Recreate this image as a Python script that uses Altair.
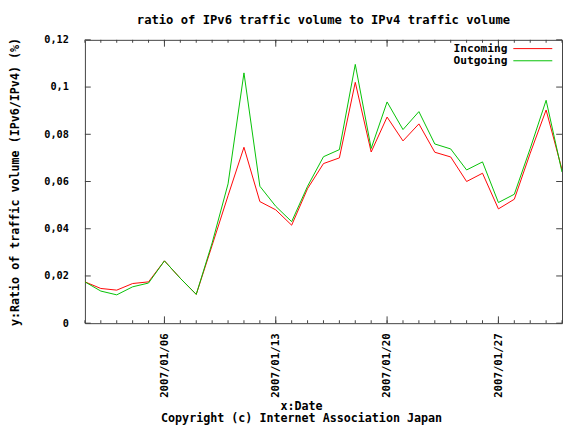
import altair as alt
import pandas as pd

dates = [f"2007-01-{d:02d}" for d in range(1, 32)]
incoming = [0.0175, 0.0147, 0.0140, 0.0168, 0.0175, 0.0264, 0.0190, 0.0122, 0.0330, 0.0540,
            0.0745, 0.0515, 0.0480, 0.0415, 0.0570, 0.0676, 0.0700, 0.1020, 0.0725, 0.0873,
            0.0772, 0.0844, 0.0724, 0.0704, 0.0600, 0.0635, 0.0484, 0.0525, 0.0720, 0.0903,
            0.0650]
outgoing = [0.0175, 0.0136, 0.0120, 0.0154, 0.0170, 0.0264, 0.0190, 0.0122, 0.0340, 0.0590,
            0.1060, 0.0580, 0.0495, 0.0430, 0.0580, 0.0705, 0.0735, 0.1096, 0.0740, 0.0937,
            0.0820, 0.0896, 0.0759, 0.0738, 0.0649, 0.0683, 0.0511, 0.0546, 0.0740, 0.0944,
            0.0640]
series_names = ["Incoming", "Outgoing"]
series_colors = ["#ff0000", "#00c000"]
major_days = [6, 13, 20, 27]
major_dates = [f"2007-01-{d:02d}" for d in major_days]
y_ticks = [0, 0.02, 0.04, 0.06, 0.08, 0.1, 0.12]

W, H = 490, 291
FONT = "DejaVu Sans Mono"

df = pd.DataFrame({
    "date": dates * 2,
    "value": incoming + outgoing,
    "series": ["Incoming"] * len(dates) + ["Outgoing"] * len(dates),
})
minor_df = pd.DataFrame({"date": dates})
major_df = pd.DataFrame({"date": major_dates})
ytick_df = pd.DataFrame({"value": y_ticks})
legend_df = pd.DataFrame({"series": series_names})

x_scale = alt.Scale(type="utc",
                    domain=[alt.DateTime(year=2007, month=1, date=1, utc=True),
                            alt.DateTime(year=2007, month=1, date=31, utc=True)])
y_scale = alt.Scale(domain=[0, 0.12], nice=False, zero=False)
color_scale = alt.Scale(domain=series_names, range=series_colors)

x_axis = alt.Axis(values=[alt.DateTime(year=2007, month=1, date=d, utc=True) for d in major_days],
                  labelExpr="utcFormat(datum.value, '%Y/%m/%d')",
                  title=["x:Date", "Copyright (c) Internet Association Japan"])
y_axis = alt.Axis(values=y_ticks,
                  labelExpr="replace(format(datum.value, '~g'), '.', ',')",
                  title="y:Ratio of traffic volume (IPv6/IPv4) (%)")

lines = alt.Chart(df).mark_line(strokeWidth=1, clip=True).encode(
    x=alt.X("date:T", scale=x_scale, axis=x_axis),
    y=alt.Y("value:Q", scale=y_scale, axis=y_axis),
    color=alt.Color("series:N", scale=color_scale, legend=None),
)

tick_color = "#404040"
yleft = alt.Chart(ytick_df).mark_rule(color=tick_color).encode(
    y=alt.Y("value:Q", axis=y_axis), x=alt.value(0), x2=alt.value(6))
yright = alt.Chart(ytick_df).mark_rule(color=tick_color).encode(
    y=alt.Y("value:Q", axis=y_axis), x=alt.value(W - 6), x2=alt.value(W))
xminb = alt.Chart(minor_df).mark_rule(color=tick_color).encode(
    x=alt.X("date:T", axis=x_axis), y=alt.value(H), y2=alt.value(H - 3))
xmint = alt.Chart(minor_df).mark_rule(color=tick_color).encode(
    x=alt.X("date:T", axis=x_axis), y=alt.value(0), y2=alt.value(3))
xmajb = alt.Chart(major_df).mark_rule(color=tick_color).encode(
    x=alt.X("date:T", axis=x_axis), y=alt.value(H), y2=alt.value(H - 7))
xmajt = alt.Chart(major_df).mark_rule(color=tick_color).encode(
    x=alt.X("date:T", axis=x_axis), y=alt.value(0), y2=alt.value(7))

legend_layers = []
for i, name in enumerate(series_names):
    ypos = 9 + 12.5 * i
    base = alt.Chart(legend_df).transform_filter(alt.datum.series == name)
    legend_layers.append(base.mark_text(align="right", baseline="middle", font=FONT,
                                        fontSize=11.5, fontWeight="bold", color="#000000").encode(
        text="series:N", x=alt.value(434), y=alt.value(ypos)))
    legend_layers.append(base.mark_rule(strokeWidth=1).encode(
        color=alt.Color("series:N", scale=color_scale, legend=None),
        x=alt.value(440), x2=alt.value(480), y=alt.value(ypos)))

chart = alt.layer(lines, yleft, yright, xminb, xmint, xmajb, xmajt, *legend_layers).properties(
    width=W, height=H,
    padding={"left": 0, "top": 0, "right": 0, "bottom": 0},
    title=alt.TitleParams("ratio of IPv6 traffic volume to IPv4 traffic volume",
                          fontSize=12.5, font=FONT, fontWeight="bold", offset=9,
                          color="#000000"),
).configure_view(stroke="#404040", strokeWidth=1).configure_axis(
    grid=False, ticks=False, domain=False,
    labelFont=FONT, labelFontWeight="bold", labelColor="#000000",
    titleFont=FONT, titleFontSize=12, titleFontWeight="bold", titleColor="#000000",
).configure_axisY(
    labelFontSize=10.5, labelPadding=17, titlePadding=23,
).configure_axisX(
    labelFontSize=11, labelAngle=270, labelPadding=10, labelFlush=False, labelOverlap=False,
    titlePadding=3, titleX=222, titleLineHeight=13,
)

chart.save("out.html", embed_options={"renderer": "svg", "actions": False})
